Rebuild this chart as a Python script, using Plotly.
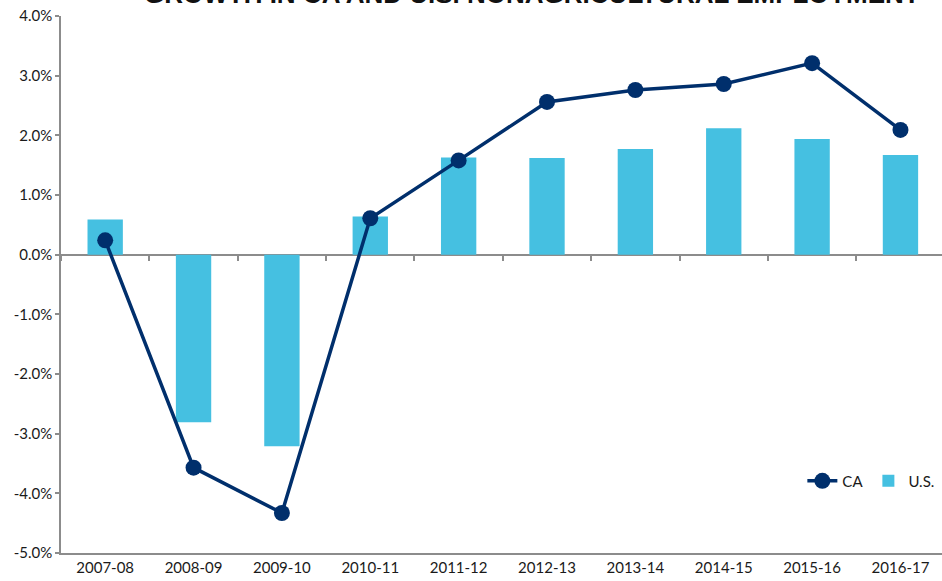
import plotly.graph_objects as go

categories = ["2007-08", "2008-09", "2009-10", "2010-11", "2011-12",
              "2012-13", "2013-14", "2014-15", "2015-16", "2016-17"]
us_growth = [0.59, -2.81, -3.21, 0.64, 1.63, 1.62, 1.77, 2.12, 1.94, 1.67]
ca_growth = [0.24, -3.57, -4.33, 0.61, 1.58, 2.56, 2.76, 2.86, 3.21, 2.09]
y_tickvals = [-5, -4, -3, -2, -1, 0, 1, 2, 3, 4]
y_ticktext = ["-5.0%", "-4.0%", "-3.0%", "-2.0%", "-1.0%", "0.0%",
              "1.0%", "2.0%", "3.0%", "4.0%"]
title_text = "GROWTH IN CA AND U.S. NONAGRICULTURAL EMPLOYMENT"

BAR = "#45C0E1"
LINE = "#002F6C"
AXIS = "#8C8C8C"
FONT = "Lato, 'Open Sans', sans-serif"

fig = go.Figure()
fig.add_trace(go.Bar(x=categories, y=us_growth, name="U.S.", width=0.4,
                     marker=dict(color=BAR, line=dict(width=0))))
fig.add_trace(go.Scatter(x=categories, y=ca_growth, name="CA", mode="lines+markers",
                         line=dict(color=LINE, width=3.5),
                         marker=dict(color=LINE, size=16)))
# helper trace so the zero-line tick axis is drawn
fig.add_trace(go.Scatter(x=categories, y=[None] * len(categories), xaxis="x2",
                         showlegend=False, hoverinfo="skip", mode="lines"))

fig.add_annotation(text="<b>" + title_text + "</b>", xref="paper", yref="paper",
                   x=0.535, y=1.0, xanchor="center", yanchor="middle", yshift=22,
                   showarrow=False,
                   font=dict(family="'Liberation Sans', Arial, sans-serif", size=26,
                             color="#111111"))

fig.update_layout(
    width=942, height=581,
    margin=dict(l=61, r=0, t=16, b=28),
    paper_bgcolor="white", plot_bgcolor="white",
    font=dict(family=FONT, size=15, color="#1a1a1a"),
    showlegend=True,
    legend=dict(orientation="h", x=0.997, xanchor="right", y=0.134, yanchor="middle",
                traceorder="reversed", font=dict(size=15), bgcolor="rgba(0,0,0,0)"),
    xaxis=dict(type="category", showline=True, linecolor=AXIS, linewidth=1.5,
               ticks="", showgrid=False, range=[-0.5, 9.47], tickfont=dict(size=15)),
    xaxis2=dict(type="category", overlaying="x", matches="x", anchor="free",
                position=5 / 9, showline=False, ticks="outside", tickson="boundaries",
                ticklen=5, tickwidth=1.5, tickcolor=AXIS, showticklabels=False,
                showgrid=False),
    yaxis=dict(range=[-5, 4], tickvals=y_tickvals, ticktext=y_ticktext,
               showline=True, linecolor=AXIS, linewidth=1.5, ticks="outside",
               ticklen=4, tickcolor=AXIS, tickwidth=1.5, showgrid=False,
               zeroline=True, zerolinecolor=AXIS, zerolinewidth=1.5,
               tickfont=dict(size=15)),
)

fig.write_html("out.html", config={"displayModeBar": False},
               post_script="document.body.style.margin='0px';document.body.style.overflow='hidden';")
